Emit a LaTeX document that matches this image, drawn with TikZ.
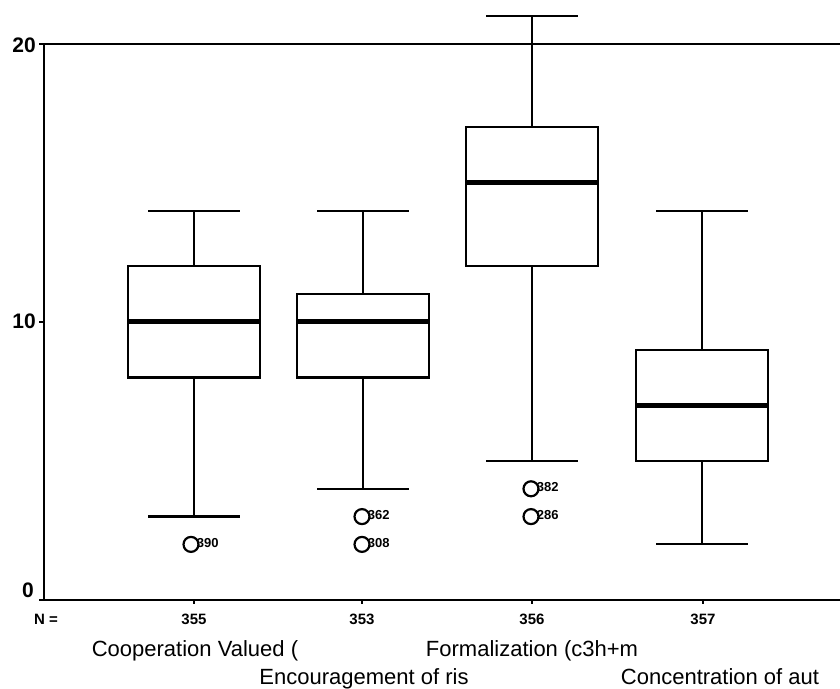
\documentclass[tikz,border=0pt]{standalone}
\usepackage{fontspec}
\setmainfont{Liberation Sans}
% box-and-whisker: #1 centre x, #2 low whisker, #3 Q1, #4 median, #5 Q3, #6 high whisker
\newcommand\whiskerbox[6]{%
  \draw[boxline] (#1-46,#2) -- (#1+46,#2) (#1,#2) -- (#1,#3)
                 (#1,#5) -- (#1,#6) (#1-46,#6) -- (#1+46,#6);
  \draw[boxline] (#1-66,#3) rectangle (#1+66,#5);
  \draw[medline] (#1-65,#4) -- (#1+65,#4);}
\begin{document}
\begin{tikzpicture}[x=1pt,y=1pt,
  axis/.style={line width=2.4pt},
  boxline/.style={line width=2.2pt},
  medline/.style={line width=5pt},
  outl/.style={circle, draw, line width=2.2pt, minimum size=15pt, inner sep=0pt},
  olabel/.style={font=\bfseries\fontsize{13}{13}\selectfont, inner sep=0pt, anchor=west, xshift=-3pt, yshift=1.5pt},
  ylab/.style={font=\bfseries\fontsize{21}{21}\selectfont, inner sep=0pt, anchor=base east},
  nlab/.style={font=\bfseries\fontsize{15}{15}\selectfont, inner sep=0pt, anchor=base},
  catlab/.style={font=\fontsize{22}{22}\selectfont, inner sep=0pt, anchor=base}]
\useasboundingbox (0,0) rectangle (840,688);
\fill[white] (0,0) rectangle (840,688);

% data area: value 0 at 88pt, 27.8pt per unit
\begin{scope}[yshift=88pt, y=27.8pt]
  \draw[axis] (44,20) -- (840,20);
  \draw[axis] (44,20) -- (44,0) -- (840,0);
  \foreach \v in {0,10,20} \draw[axis] (44,\v) -- ++(-5pt,0);
  \foreach \c in {194,362,532,703} \draw[axis] (\c,0) -- ++(0,-4pt);

  \whiskerbox{194}{3}{8}{10}{12}{14}
  \whiskerbox{363}{4}{8}{10}{11}{14}
  \whiskerbox{532}{5}{12}{15}{17}{21}
  \whiskerbox{702}{2}{5}{7}{9}{14}

  \node[outl] (o1) at (191,2) {};
  \node[olabel] at (o1.east) {390};
  \node[outl] (o2) at (362,3) {};
  \node[olabel] at (o2.east) {362};
  \node[outl] (o3) at (362,2) {};
  \node[olabel] at (o3.east) {308};
  \node[outl] (o4) at (531,4) {};
  \node[olabel] at (o4.east) {382};
  \node[outl] (o5) at (531,3) {};
  \node[olabel] at (o5.east) {286};
\end{scope}

% value axis labels
\node[ylab] (y20) at (36,635) {20};
\node[ylab] (y10) at (36,359) {10};
\node[ylab] (y0) at (34,91) {0};

% case counts
\node[nlab, anchor=base west] (nn) at (34,64) {N =};
\node[nlab] (n1) at (194,64) {355};
\node[nlab] (n2) at (362,64) {353};
\node[nlab] (n3) at (532,64) {356};
\node[nlab] (n4) at (703,64) {357};

% variable names, staggered on two rows
\node[catlab] (c1) at (195,32) {Cooperation Valued (};
\node[catlab] (c2) at (364,4) {Encouragement of ris};
\node[catlab] (c3) at (532,32) {Formalization (c3h+m};
\node[catlab] (c4) at (720,4) {Concentration of aut};
\end{tikzpicture}
\end{document}
